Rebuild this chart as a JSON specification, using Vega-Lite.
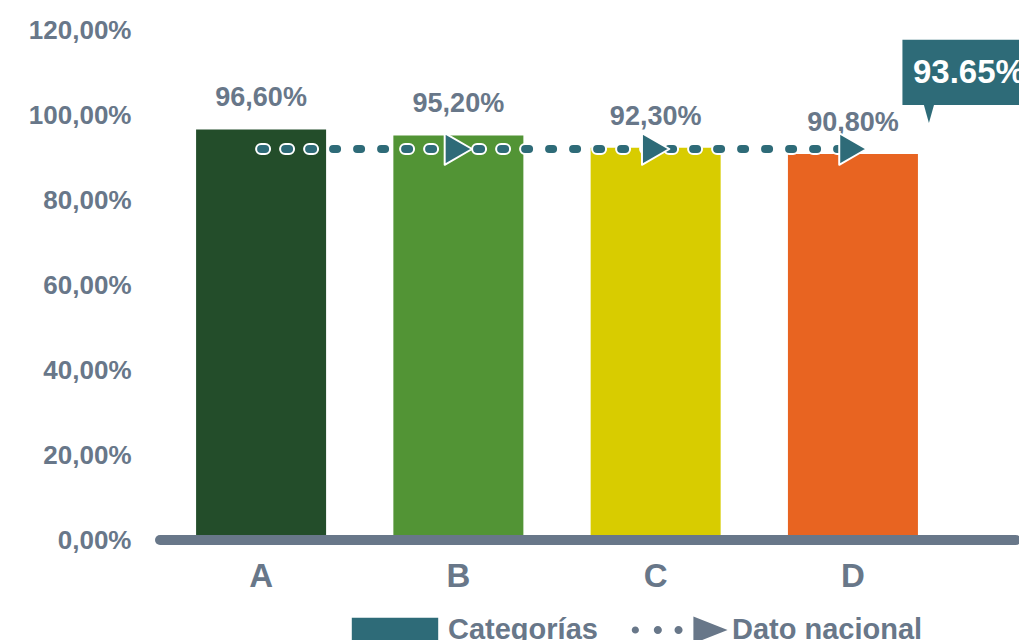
{
  "$schema": "https://vega.github.io/schema/vega-lite/v6.json",
  "width": 856,
  "height": 510,
  "autosize": {"type": "none"},
  "padding": {"left": 160, "top": 30, "right": 3, "bottom": 100},
  "background": "white",
  "config": {
    "view": {"stroke": null},
    "font": "Liberation Sans",
    "locale": {"number": {"decimal": ",", "thousands": ".", "grouping": [3], "currency": ["", " €"]}},
    "legend": {
      "orient": "none",
      "legendX": 190,
      "legendY": 555,
      "direction": "horizontal",
      "title": null,
      "symbolSize": 8100,
      "labelFontSize": 29,
      "labelFontWeight": "bold",
      "labelColor": "#687789",
      "labelOffset": 8,
      "labelLimit": 400,
      "columnPadding": 33,
      "symbolStrokeWidth": 0,
      "symbolOpacity": 1
    }
  },
  "datasets": {
    "barras": [
      {"cat": "A", "valor": 0.966},
      {"cat": "B", "valor": 0.952},
      {"cat": "C", "valor": 0.923},
      {"cat": "D", "valor": 0.908}
    ],
    "nacional": [
      {"cat": "A", "nac": 0.92, "flecha": false},
      {"cat": "B", "nac": 0.92, "flecha": true},
      {"cat": "C", "nac": 0.92, "flecha": true},
      {"cat": "D", "nac": 0.92, "flecha": true}
    ],
    "callout": [{"cat": "D", "etiqueta": "93.65%"}],
    "leyenda": [{"serie": "Categorías"}, {"serie": "Dato nacional"}]
  },
  "encoding": {
    "x": {
      "field": "cat",
      "type": "nominal",
      "scale": {"domain": ["A", "B", "C", "D"], "paddingInner": 0.341, "paddingOuter": 0.34, "align": 0.269},
      "axis": {
        "title": null,
        "labelAngle": 0,
        "labelFontSize": 33,
        "labelFontWeight": "bold",
        "labelColor": "#687789",
        "labelPadding": 20,
        "domain": false,
        "ticks": false
      }
    }
  },
  "layer": [
    {
      "data": {"name": "barras"},
      "mark": {"type": "bar"},
      "encoding": {
        "y": {
          "field": "valor",
          "type": "quantitative",
          "scale": {"domain": [0, 1.2], "nice": false},
          "axis": {
            "title": null,
            "values": [0, 0.2, 0.4, 0.6, 0.8, 1, 1.2],
            "format": ".2%",
            "labelFontSize": 26,
            "labelFontWeight": "bold",
            "labelColor": "#687789",
            "labelPadding": 29,
            "domain": false,
            "ticks": false,
            "grid": false
          }
        },
        "color": {
          "field": "cat",
          "type": "nominal",
          "scale": {"domain": ["A", "B", "C", "D"], "range": ["#234d2a", "#529435", "#d8cc00", "#e86421"]},
          "legend": null
        }
      }
    },
    {
      "data": {"name": "barras"},
      "mark": {"type": "text", "fontSize": 27, "fontWeight": "bold", "color": "#687789", "baseline": "alphabetic", "dy": -23},
      "encoding": {
        "y": {"field": "valor", "type": "quantitative"},
        "text": {"field": "valor", "type": "quantitative", "format": ".2%"}
      }
    },
    {
      "data": {"values": [{}]},
      "mark": {"type": "rule", "strokeWidth": 10, "color": "#687789", "strokeCap": "round"},
      "encoding": {"x": null, "y": {"datum": 0}}
    },
    {
      "data": {"name": "nacional"},
      "mark": {"type": "line", "strokeWidth": 12, "color": "white", "strokeDash": [4, 20], "strokeCap": "round"},
      "encoding": {"y": {"field": "nac", "type": "quantitative"}}
    },
    {
      "data": {"name": "nacional"},
      "mark": {"type": "line", "strokeWidth": 8, "color": "#2e6b78", "strokeDash": [4, 20], "strokeCap": "round"},
      "encoding": {"y": {"field": "nac", "type": "quantitative"}}
    },
    {
      "data": {"name": "nacional"},
      "transform": [{"filter": "datum.flecha"}],
      "mark": {"type": "point", "filled": true, "opacity": 1, "size": 1000, "color": "#2e6b78", "stroke": "white", "strokeWidth": 2, "strokeJoin": "round", "shape": "triangle-right"},
      "encoding": {"y": {"field": "nac", "type": "quantitative"}}
    },
    {
      "data": {"name": "callout"},
      "mark": {"type": "bar", "width": 125, "xOffset": 112, "color": "#2e6b78"},
      "encoding": {"y": {"datum": 1.0235}, "y2": {"datum": 1.177}}
    },
    {
      "data": {"name": "callout"},
      "mark": {"type": "point", "filled": true, "opacity": 1, "size": 324, "xOffset": 76, "fill": "#2e6b78", "strokeWidth": 0, "shape": "M-0.6,-1.15 L0.6,-1.15 L0,1 Z"},
      "encoding": {"y": {"datum": 1.0024}}
    },
    {
      "data": {"name": "callout"},
      "mark": {"type": "text", "fontSize": 33, "fontWeight": "bold", "color": "white", "align": "left", "baseline": "middle", "xOffset": 60},
      "encoding": {"y": {"datum": 1.10}, "text": {"field": "etiqueta"}}
    },
    {
      "data": {"name": "leyenda"},
      "mark": {"type": "point", "filled": true, "opacity": 0},
      "encoding": {
        "x": null,
        "color": {
          "field": "serie",
          "type": "nominal",
          "scale": {"domain": ["Categorías", "Dato nacional"], "range": ["#2e6b78", "#687789"]}
        },
        "shape": {
          "field": "serie",
          "type": "nominal",
          "scale": {
            "domain": ["Categorías", "Dato nacional"],
            "range": [
              "M-0.96,-0.27 L0.96,-0.27 L0.96,0.27 L-0.96,0.27 Z",
              "M-1.05,0 A0.08,0.08 0 1,1 -0.89,0 A0.08,0.08 0 1,1 -1.05,0 Z M-0.56,0 A0.09,0.09 0 1,1 -0.38,0 A0.09,0.09 0 1,1 -0.56,0 Z M-0.1,0 A0.09,0.09 0 1,1 0.08,0 A0.09,0.09 0 1,1 -0.1,0 Z M0.32,-0.3 L1.08,0 L0.32,0.3 Z"
            ]
          }
        }
      }
    }
  ],
  "resolve": {"scale": {"color": "independent", "shape": "independent"}, "legend": {"color": "independent", "shape": "independent"}}
}
